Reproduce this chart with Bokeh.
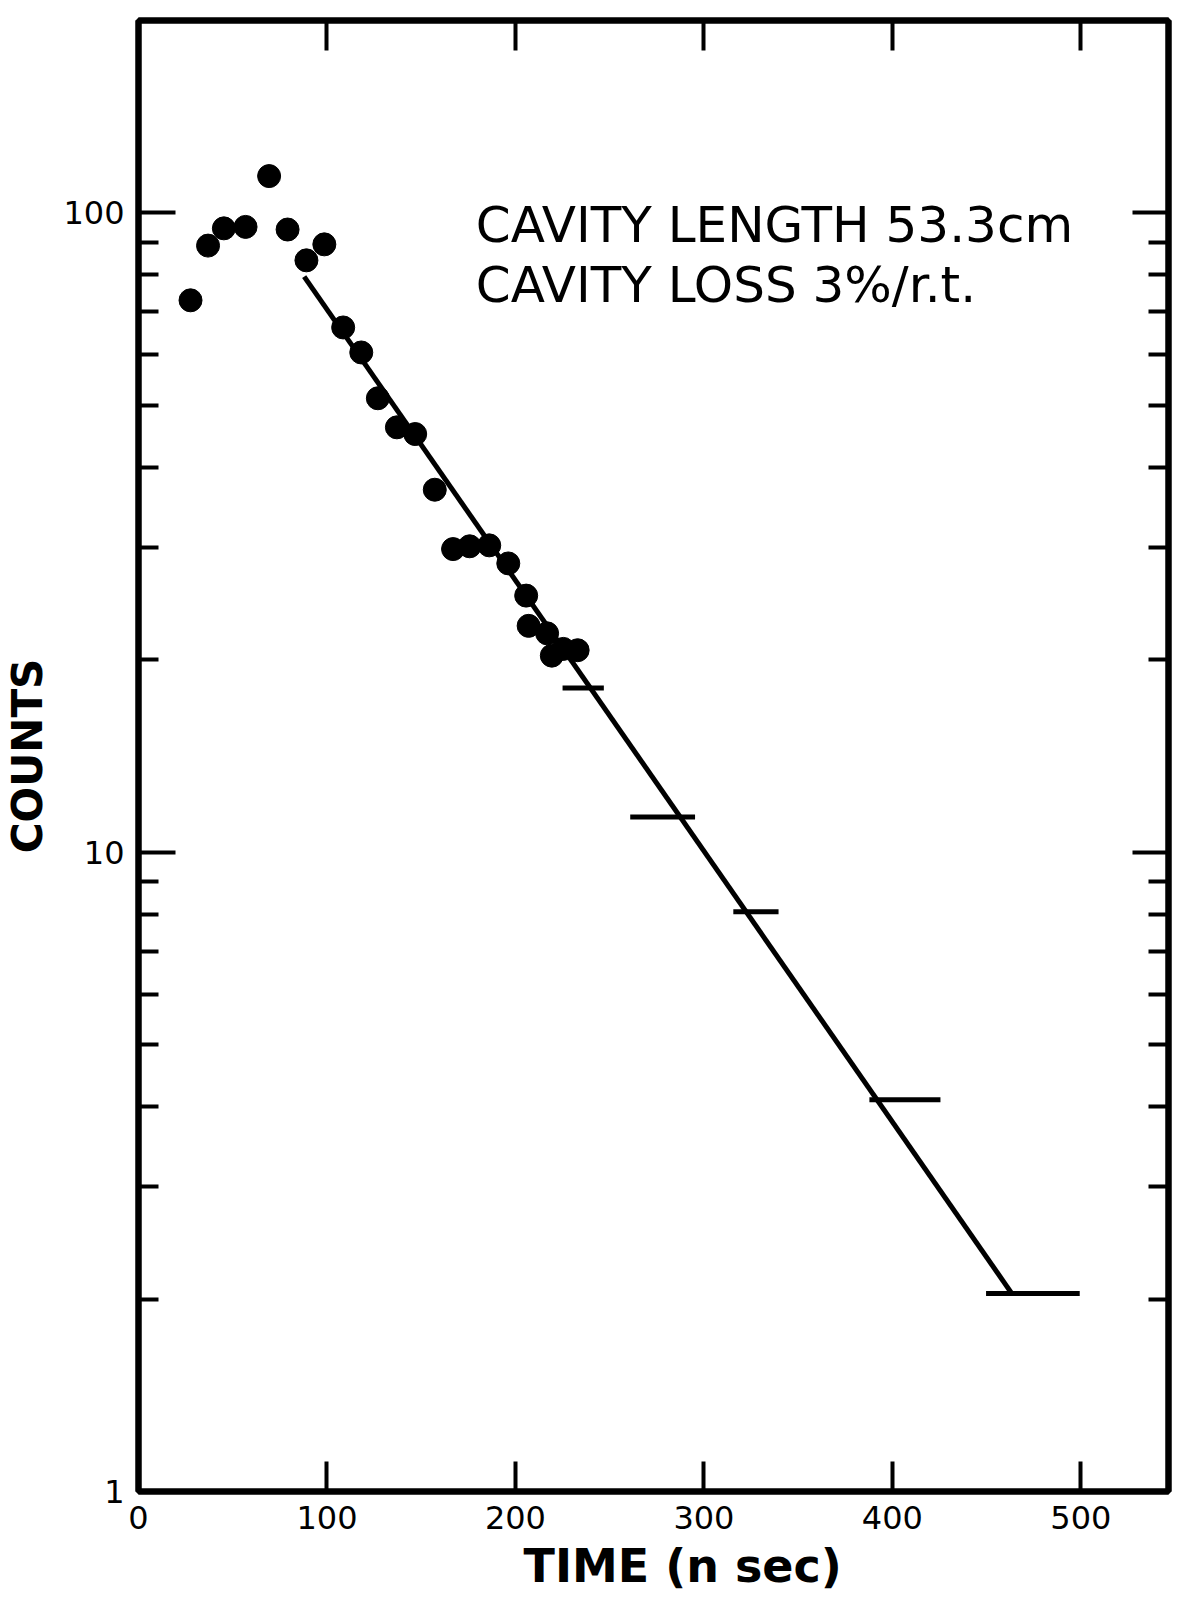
from bokeh.plotting import figure
from bokeh.models import FixedTicker, LinearAxis, LogAxis, Label, Range1d, Title
from bokeh.embed import file_html
from bokeh.resources import INLINE

# ---- data ----
time_ns = [27.6, 36.9, 45.3, 56.8, 69.3, 79.1, 89.1, 98.6, 108.6, 118.2, 127.0, 137.1,
           146.8, 157.2, 166.9, 175.7, 186.1, 196.2, 205.7, 207.0, 216.8, 219.3, 225.4, 233.0]
counts = [73.0, 88.9, 94.6, 95.1, 114.2, 94.2, 84.3, 89.3, 66.2, 60.5, 51.3, 46.2,
          45.1, 36.9, 29.8, 30.1, 30.2, 28.3, 25.2, 22.6, 22.0, 20.3, 20.8, 20.7]

bin_start = [225.0, 260.9, 315.6, 387.8, 449.7]
bin_end = [246.9, 295.3, 339.6, 425.5, 499.4]
bin_counts = [18.06, 11.35, 8.07, 4.10, 2.04]

fit_time = [87.9, 463.4]
fit_counts = [79.5, 2.04]

x_ticks = [0, 100, 200, 300, 400, 500]
x_tick_labels = ["0", "100", "200", "300", "400", "500"]
y_ticks = [1, 10, 100]
y_tick_labels = ["1", "10", "100"]
y_minor = [2, 3, 4, 5, 6, 7, 8, 9, 20, 30, 40, 50, 60, 70, 80, 90]

annotation_lines = ["CAVITY LENGTH 53.3cm", "CAVITY LOSS 3%/r.t."]
x_title = "TIME (n sec)"
y_title = "COUNTS"

FONT = "DejaVu Sans"

p = figure(width=1176, height=1606,
           x_range=Range1d(0, 546.5), y_range=Range1d(1, 200),
           y_axis_type="log", output_backend="svg", toolbar_location=None,
           min_border_left=138, min_border_right=8,
           min_border_top=20, min_border_bottom=115)
p.background_fill_color = "white"
p.border_fill_color = "white"
p.xgrid.visible = False
p.ygrid.visible = False
p.outline_line_color = "black"
p.outline_line_width = 6

# bottom axis
xa = p.xaxis[0]
xa.ticker = FixedTicker(ticks=x_ticks, minor_ticks=[])
xa.major_label_overrides = {t: s for t, s in zip(x_ticks, x_tick_labels)}
xa.axis_line_color = "black"
xa.axis_line_width = 6
xa.major_tick_in = 30
xa.major_tick_out = 0
xa.major_tick_line_width = 4
xa.major_tick_line_color = "black"
xa.minor_tick_line_color = None
xa.major_label_text_font = FONT
xa.major_label_text_font_size = "32px"
xa.major_label_text_color = "black"
xa.major_label_standoff = 14

# x title below the axis, shifted to the right as in the reference
p.add_layout(Title(text=x_title, align="left", offset=385, standoff=10,
                   text_font=FONT, text_font_style="bold", text_font_size="46px",
                   text_color="black"), "below")

# left axis
ya = p.yaxis[0]
ya.ticker = FixedTicker(ticks=y_ticks, minor_ticks=y_minor)
ya.major_label_overrides = {t: s for t, s in zip(y_ticks, y_tick_labels)}
ya.axis_line_color = "black"
ya.axis_line_width = 6
ya.major_tick_in = 37
ya.major_tick_out = 0
ya.minor_tick_in = 20
ya.minor_tick_out = 0
ya.major_tick_line_width = 4
ya.minor_tick_line_width = 4
ya.major_tick_line_color = "black"
ya.minor_tick_line_color = "black"
ya.major_label_text_font = FONT
ya.major_label_text_font_size = "32px"
ya.major_label_text_color = "black"
ya.major_label_standoff = 14
ya.axis_label = y_title
ya.axis_label_text_font = FONT
ya.axis_label_text_font_style = "bold"
ya.axis_label_text_font_size = "42px"
ya.axis_label_text_color = "black"
ya.axis_label_standoff = 8

# top axis (ticks only)
top = LinearAxis(ticker=FixedTicker(ticks=x_ticks[1:], minor_ticks=[]),
                 axis_line_color="black", axis_line_width=6,
                 major_tick_in=30, major_tick_out=0, major_tick_line_width=4,
                 major_tick_line_color="black", minor_tick_line_color=None,
                 major_label_text_font_size="0px", major_label_text_color=None,
                 major_label_standoff=0)
p.add_layout(top, "above")

# right axis (ticks only)
right = LogAxis(ticker=FixedTicker(ticks=y_ticks[1:], minor_ticks=y_minor),
                axis_line_color="black", axis_line_width=6,
                major_tick_in=36, major_tick_out=0, minor_tick_in=20, minor_tick_out=0,
                major_tick_line_width=4, minor_tick_line_width=4,
                major_tick_line_color="black", minor_tick_line_color="black",
                major_label_text_font_size="0px", major_label_text_color=None,
                major_label_standoff=0)
p.add_layout(right, "right")

# data marks
p.line(fit_time, fit_counts, line_width=5, line_color="black")
p.segment(x0=bin_start, y0=bin_counts, x1=bin_end, y1=bin_counts,
          line_width=5, line_color="black")
p.scatter(time_ns, counts, size=23, fill_color="black", line_color="black")

# annotation text
p.add_layout(Label(x=179, y=95.8, text=annotation_lines[0], text_font=FONT,
                   text_font_size="50px", text_color="black", text_baseline="alphabetic"))
p.add_layout(Label(x=179, y=77.2, text=annotation_lines[1], text_font=FONT,
                   text_font_size="50px", text_color="black", text_baseline="alphabetic"))

open("out.html", "w").write(file_html(p, INLINE))
